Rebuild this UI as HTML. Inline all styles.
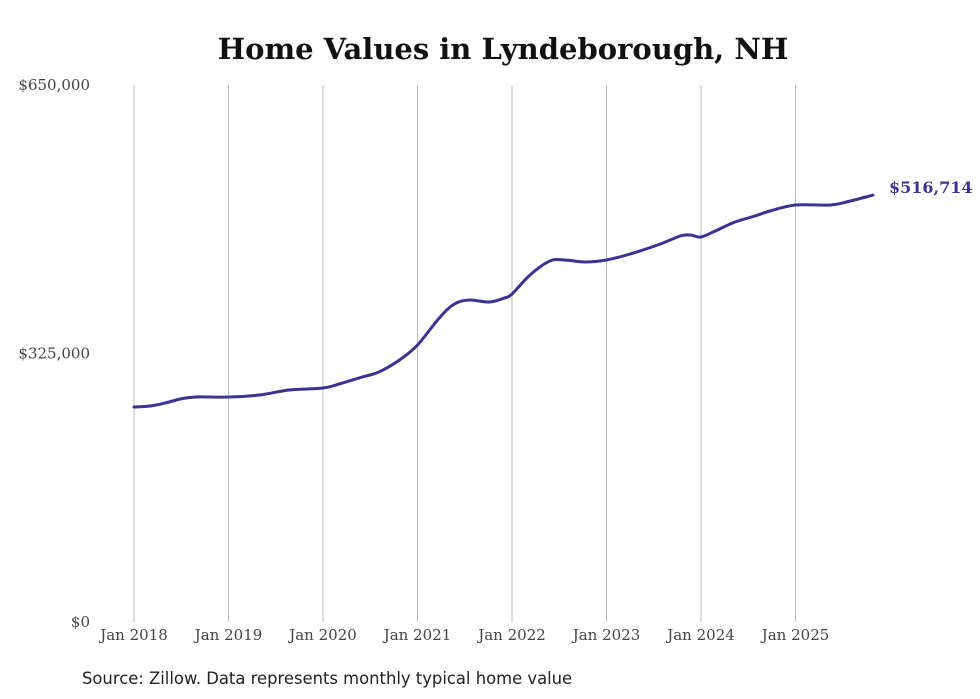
<!DOCTYPE html>
<html><head><meta charset="utf-8"><style>
body{margin:0;background:#fff;}
svg{display:block;}
</style></head><body>
<svg id="chart" width="980" height="699" xmlns="http://www.w3.org/2000/svg">
<text x="503" y="59" text-anchor="middle" font-family="'DejaVu Serif',serif" font-weight="bold" font-size="29" fill="#111">Home Values in Lyndeborough, NH</text>
<g id="grid"></g><g id="yticks"></g><g id="xticks"></g><g id="series"></g>
<text x="82" y="684" font-family="'DejaVu Sans','Liberation Sans',sans-serif" font-size="16.4" fill="#222">Source: Zillow. Data represents monthly typical home value</text>
</svg>
<script>
const xTickYears=[2018,2019,2020,2021,2022,2023,2024,2025];
const xTickLabels=["Jan 2018","Jan 2019","Jan 2020","Jan 2021","Jan 2022","Jan 2023","Jan 2024","Jan 2025"];
const yTickValues=[0,325000,650000];
const yTickLabels=["$0","$325,000","$650,000"];
const dates=[2018.0,2018.17,2018.33,2018.49,2018.65,2019.0,2019.33,2019.64,2020.0,2020.17,2020.38,2020.59,2020.81,2021.0,2021.23,2021.39,2021.55,2021.76,2021.92,2022.0,2022.19,2022.4,2022.56,2022.77,2023.0,2023.25,2023.57,2023.78,2023.89,2024.0,2024.15,2024.36,2024.57,2024.73,2025.0,2025.37,2025.58,2025.82];
const values=[260200,261400,265100,269900,272300,272300,274800,280800,283200,288100,295300,302600,317100,335300,367900,384900,389700,387300,392200,397000,420000,437000,438200,435700,438200,445400,457500,467200,468400,466000,473300,484200,491400,497500,504700,504700,509600,516714];
const lastLabel="$516,714";
const X=t=>134+(t-2018)*94.5;
const Y=v=>622-v/650000*537;
const NS="http://www.w3.org/2000/svg";
function mk(tag,parent,attrs){const e=document.createElementNS(NS,tag);for(const k in attrs)e.setAttribute(k,attrs[k]);document.getElementById(parent).appendChild(e);return e;}
xTickYears.forEach((yr,i)=>{
  const l=mk('line','grid',{x1:X(yr),x2:X(yr),y1:85,y2:622,stroke:'#bbb','stroke-width':1});
  
  
  const t=mk('text','xticks',{x:X(yr),y:640,'text-anchor':'middle','font-family':"'DejaVu Serif',serif",'font-size':15,fill:'#444'});
  t.textContent=xTickLabels[i];
  
  
});
yTickValues.forEach((v,i)=>{
  const t=mk('text','yticks',{x:90,y:Y(v)+5,'text-anchor':'end','font-family':"'DejaVu Serif',serif",'font-size':15,fill:'#444'});
  t.textContent=yTickLabels[i];
  
  
});
const pts=dates.map((t,i)=>[X(t),Y(values[i])]);
let d='M'+pts[0][0].toFixed(1)+','+pts[0][1].toFixed(1);
for(let i=0;i<pts.length-1;i++){
  const p0=pts[Math.max(0,i-1)],p1=pts[i],p2=pts[i+1],p3=pts[Math.min(pts.length-1,i+2)];
  const c1=[p1[0]+(p2[0]-p0[0])/6,p1[1]+(p2[1]-p0[1])/6];
  const c2=[p2[0]-(p3[0]-p1[0])/6,p2[1]-(p3[1]-p1[1])/6];
  d+=' C'+c1.map(v=>v.toFixed(1)).join(',')+' '+c2.map(v=>v.toFixed(1)).join(',')+' '+p2.map(v=>v.toFixed(1)).join(',');
}
const p=mk('path','series',{d:d,fill:'none',stroke:'#3b3294','stroke-width':3,'stroke-linejoin':'round','stroke-linecap':'round'});


const n=dates.length-1;
const lt=mk('text','series',{x:X(dates[n])+16,y:Y(values[n])-2,'font-family':"'DejaVu Serif',serif",'font-weight':'bold','font-size':16,fill:'#3b3294'});
lt.textContent=lastLabel;


</script>
</body></html>
